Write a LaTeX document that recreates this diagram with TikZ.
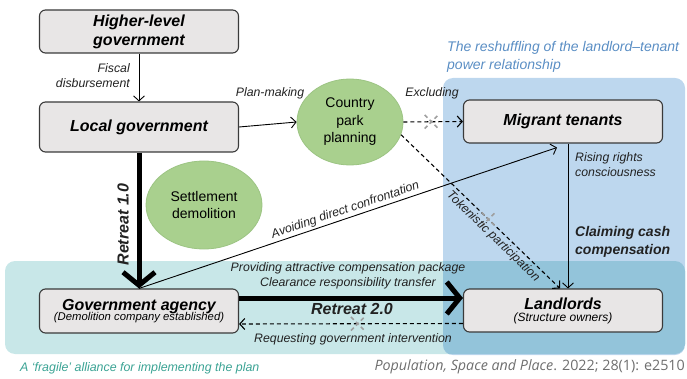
\documentclass[tikz,border=0pt]{standalone}
\usepackage{fontspec}
\setmainfont{Liberation Sans}
\newfontfamily\citefont{Open Sans}
\usetikzlibrary{arrows.meta,shapes.geometric,shapes.misc,calc}
\definecolor{boxfill}{HTML}{E8E6E6}
\definecolor{boxline}{HTML}{3A3A3A}
\definecolor{ellfill}{HTML}{A9D08E}
\definecolor{ellline}{HTML}{9CC483}
\definecolor{bluereg}{HTML}{BDD7EE}
\definecolor{tealreg}{HTML}{C8E7E8}
\definecolor{overreg}{HTML}{93C4DA}
\definecolor{bluetext}{HTML}{5A8EC4}
\definecolor{tealtext}{HTML}{3BA394}
\definecolor{labtext}{HTML}{222222}
\definecolor{citetext}{HTML}{6E6E6E}
\begin{document}
\begin{tikzpicture}[x=1pt,y=-1pt,
  box/.style={draw=boxline, fill=boxfill, rounded corners=6pt, line width=1.1pt,
    minimum width=199pt, align=center, inner sep=0pt},
  ell/.style={ellipse, draw=ellline, fill=ellfill, line width=0.8pt, align=center, inner sep=0pt,
    font=\fontsize{14}{17.5}\selectfont},
  bfi/.style={font=\fontsize{16}{19}\selectfont\bfseries\itshape},
  lab/.style={font=\fontsize{12.3}{15}\selectfont\itshape, text=labtext, inner sep=1pt},
  arr/.style={-{Straight Barb[length=5pt,width=11pt]}, line width=0.9pt, draw=black},
  darr/.style={arr, line width=1.1pt, dash pattern=on 4pt off 3pt},
  bigarr/.style={-{Straight Barb[length=13pt,width=32pt]}, line width=5pt},
  xmark/.style={cross out, draw=gray!75, line width=1.6pt, minimum size=12pt, inner sep=0pt}
]
\useasboundingbox (0,0) rectangle (687,379);

% regions
\fill[tealreg, rounded corners=10pt] (5,261) rectangle (685,354);
\fill[bluereg, rounded corners=10pt] (443,78) rectangle (685,355);
\begin{scope}
  \clip[rounded corners=10pt] (5,261) rectangle (685,354);
  \fill[overreg, rounded corners=10pt] (443,78) rectangle (685,355);
\end{scope}

% nodes
\node[box, minimum height=43pt, bfi] (higher) at (139,31.5) {Higher-level\\government};
\node[box, minimum height=50pt, bfi] (local) at (139,127) {Local government};
\node[box, minimum height=44pt] (agency) at (139,311)
  {{\fontsize{16}{18}\selectfont\bfseries\itshape Government agency}\\[-2pt]
   {\fontsize{11.3}{14}\selectfont\itshape (Demolition company established)}};
\node[box, minimum height=43pt, bfi] (migrant) at (563,121.5) {Migrant tenants};
\node[box, minimum height=43pt] (landlords) at (563,310.5)
  {{\fontsize{16}{18}\selectfont\bfseries\itshape Landlords}\\[0pt]
   {\fontsize{12}{14}\selectfont\itshape (Structure owners)}};
\node[ell, minimum width=106pt, minimum height=86pt] (country) at (350,122) {Country\\park\\planning};
\node[ell, minimum width=116pt, minimum height=88pt] (settle) at (204,205) {Settlement\\demolition};

% connectors
\draw[arr] (higher) -- (local);
\draw[arr] (local.east) -- (country.west);
\draw[darr] (country.east) -- node[xmark, pos=0.47]{} (migrant.west);
\draw[darr] (country.-14) -- node[xmark, pos=0.55]{}
  node[lab, pos=0.62, below=2pt, sloped]{Tokenistic participation} ([xshift=-3pt]landlords.north);
\draw[arr] ([xshift=5pt]migrant.south) -- ([xshift=5pt]landlords.north);
\draw[bigarr] (local.south) -- (agency.north);
\path (agency.north) -- node[bfi, text=labtext, pos=0.47, sloped, yshift=16pt] (r1) {Retreat 1.0} (local.south);
\draw[arr] (agency.north) -- node[lab, pos=0.5, above=1pt, sloped]{Avoiding direct confrontation}
  ([xshift=-6pt,yshift=-4pt]migrant.south);
\draw[bigarr] ([yshift=13pt]agency.east) -- ([yshift=12.5pt]landlords.west);
\draw[darr] ([yshift=-13pt]landlords.west) -- node[xmark, pos=0.47]{} ([yshift=-13pt]agency.east);

% labels
\node[lab, align=right, anchor=east, font=\fontsize{12.3}{15}\selectfont\itshape] (fiscal) at (131,76) {Fiscal\\disbursement};
\node[lab] (plan) at (270,93) {Plan-making};
\node[lab] (excl) at (432,93) {Excluding};
\node[lab, align=left, anchor=west] (rising) at (574,165) {Rising rights\\consciousness};
\node[lab, align=left, anchor=west, font=\fontsize{14}{18}\selectfont\bfseries\itshape] (claim) at (574,242) {Claiming cash\\compensation};
\node[lab, align=center] (prov) at (348,275.5) {Providing attractive compensation package\\Clearance responsibility transfer};
\node[bfi, text=labtext] (r2) at (352,309) {Retreat 2.0};
\node[lab] (req) at (353,339) {Requesting government intervention};

% titles
\node[align=left, anchor=west, text=bluetext, font=\fontsize{14}{18}\selectfont\itshape, inner sep=0pt] (btitle) at (447,57)
  {The reshuffling of the landlord--tenant\\power relationship};
\node[anchor=west, text=tealtext, font=\fontsize{12.4}{15}\selectfont\itshape, inner sep=0pt] (tcap) at (20,368)
  {A ‘fragile’ alliance for implementing the plan};
\node[anchor=east, text=citetext, font=\citefont\fontsize{14.3}{17}\selectfont, inner sep=0pt] (cite) at (685,367)
  {{\itshape Population, Space and Place}. 2022; 28(1): e2510};
\end{tikzpicture}
\end{document}
